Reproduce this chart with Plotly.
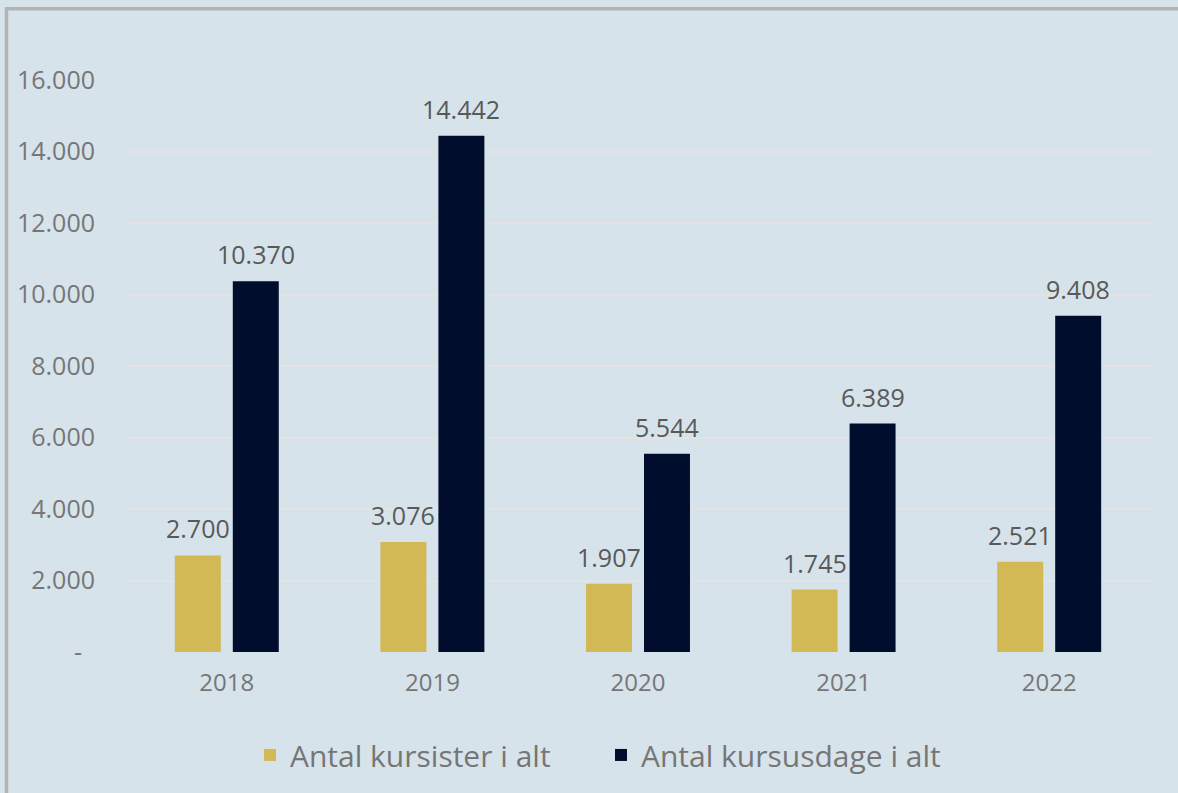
import plotly.graph_objects as go

years = ["2018", "2019", "2020", "2021", "2022"]
kursister = [2700, 3076, 1907, 1745, 2521]
kursusdage = [10370, 14442, 5544, 6389, 9408]
series_names = ["Antal kursister i alt", "Antal kursusdage i alt"]
ytick_vals = [0, 2000, 4000, 6000, 8000, 10000, 12000, 14000, 16000]
ytick_text = ["-\u00a0\u00a0", "2.000", "4.000", "6.000", "8.000", "10.000", "12.000", "14.000", "16.000"]

GOLD = "#d3b856"
NAVY = "#000d2c"
BG = "#d7e3eb"
FONT = "Open Sans"

fig = go.Figure()
fig.add_trace(go.Bar(x=years, y=kursister, name=series_names[0], marker_color=GOLD,
                     marker_line_width=0))
fig.add_trace(go.Bar(x=years, y=kursusdage, name=series_names[1], marker_color=NAVY,
                     marker_line_width=0))

for vals, xs in ((kursister, -29), (kursusdage, 29)):
    for i, v in enumerate(vals):
        fig.add_annotation(x=i, y=v, xref="x", yref="y", xshift=xs, yshift=8,
                           yanchor="bottom", showarrow=False,
                           text=f"{v:,}".replace(",", "."),
                           font=dict(family=FONT, size=25, color="#595959"))

fig.add_shape(type="rect", xref="paper", yref="paper",
              x0=(6.5 - 124) / 1028, x1=2, y0=-1, y1=(655 - 8.5) / 575,
              line=dict(color="#b3b3b3", width=3.5), fillcolor="rgba(0,0,0,0)", layer="below")

fig.update_layout(
    width=1178, height=793,
    paper_bgcolor=BG, plot_bgcolor=BG,
    margin=dict(l=124, r=26, t=80, b=138),
    barmode="group", bargap=0.436, bargroupgap=0.207,
    separators=",.",
    font=dict(family=FONT, color="#767676"),
    showlegend=True,
    legend=dict(orientation="h", x=0.464, xanchor="center", y=-0.18, yanchor="middle",
                font=dict(family=FONT, size=30, color="#767676"), bgcolor="rgba(0,0,0,0)",
                traceorder="normal", entrywidth=306),
    xaxis=dict(type="category", range=[-0.5, 4.5], showgrid=False, showline=False,
               tickfont=dict(size=24, color="#767676"), ticks="", ticklabelstandoff=14),
    yaxis=dict(range=[0, 16000], tickvals=ytick_vals, ticktext=ytick_text,
               showgrid=True, gridcolor="#e3e3e3", gridwidth=1.5, zeroline=False,
               tickfont=dict(size=25, color="#767676"), ticklabelstandoff=28, showline=False),
)

fig.write_html("out.html", config={"displayModeBar": False},
               post_script="document.body.style.margin='0';")
